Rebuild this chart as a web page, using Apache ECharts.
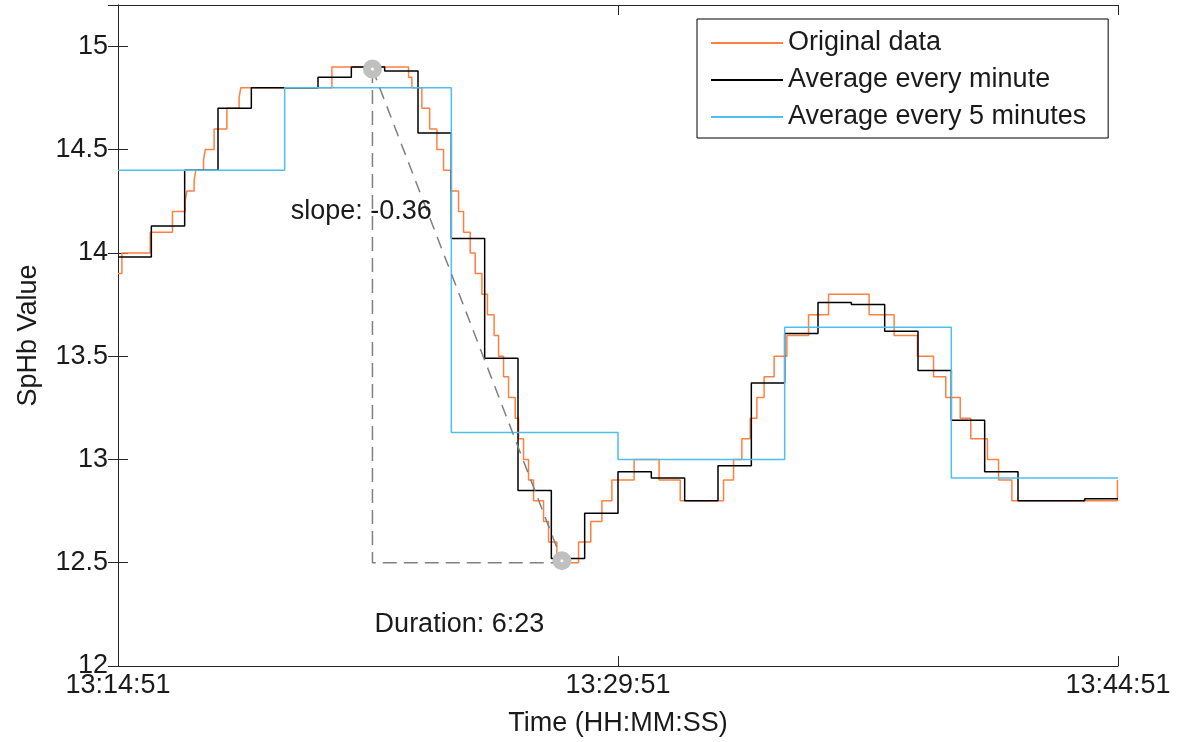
<!DOCTYPE html>
<html><head><meta charset="utf-8">
<script src="https://cdn.jsdelivr.net/npm/echarts@6/dist/echarts.min.js"></script>
<style>html,body{margin:0;padding:0;background:#fff}#c{width:1178px;height:742px}</style>
</head><body><div id="c"></div>
<script>
// ---- data ----
const startClock = [13, 14, 51];           // 13:14:51
const xMin = 0, xMax = 1800, xInterval = 900; // seconds from start
const yMin = 12, yMax = 15.2, yInterval = 0.5;

// original data: change times (s from start) and values (stairs)
const originalTimes = [0, 7, 58, 98, 121, 124, 137, 140, 154, 157, 173, 196, 218, 221,
  385, 523, 529, 547, 561, 574, 586, 599, 613, 622, 634, 643, 655, 665, 677, 685, 694,
  703, 715, 721, 730, 739, 748, 766, 775, 790, 829, 851, 871, 889, 929, 974, 1012,
  1090, 1108, 1123, 1138, 1150, 1163, 1181, 1204, 1243, 1279, 1352, 1397, 1439, 1468,
  1490, 1516, 1535, 1565, 1585, 1609, 1799, 1800];
const originalValues = [13.9, 14.0, 14.1, 14.2, 14.25, 14.3, 14.35, 14.4, 14.45, 14.5, 14.6, 14.7, 14.75, 14.8,
  14.9, 14.85, 14.8, 14.7, 14.6, 14.5, 14.4, 14.3, 14.2, 14.1, 14.0, 13.9, 13.8, 13.7, 13.6, 13.5, 13.4,
  13.3, 13.2, 13.1, 13.0, 12.9, 12.8, 12.7, 12.6, 12.5, 12.6, 12.7, 12.8, 12.9, 13.0, 12.9, 12.8,
  12.9, 13.0, 13.1, 13.2, 13.3, 13.4, 13.5, 13.6, 13.7, 13.8, 13.7, 13.6, 13.5, 13.4,
  13.3, 13.2, 13.1, 13.0, 12.9, 12.8, 12.9, 12.9];

// average every minute (30 bins)
const minuteValues = [13.98, 14.13, 14.40, 14.70, 14.80, 14.80, 14.85, 14.90, 14.88, 14.58,
  14.07, 13.49, 12.85, 12.52, 12.74, 12.94, 12.91, 12.80, 12.97, 13.37,
  13.61, 13.76, 13.75, 13.62, 13.43, 13.19, 12.94, 12.80, 12.80, 12.81];
// average every 5 minutes (6 bins)
const fiveMinuteValues = [14.40, 14.80, 13.13, 13.00, 13.64, 12.91];

const peakPoint = [458, 14.89];
const troughPoint = [799, 12.51];
const guideLevel = 12.5;
const slopeText = 'slope: -0.36';
const slopeTextAt = [310, 14.20];
const durationText = 'Duration: 6:23';
const durationTextAt = [461, 12.20];

const seriesNames = ['Original data', 'Average every minute', 'Average every 5 minutes'];
const seriesColors = ['#FF8040', '#000000', '#4DBEEE'];

// ---- helpers ----
function clock(sec) {
  let t = startClock[0] * 3600 + startClock[1] * 60 + startClock[2] + sec;
  const h = Math.floor(t / 3600), m = Math.floor((t % 3600) / 60), s = Math.round(t % 60);
  const p = n => String(n).padStart(2, '0');
  return p(h) + ':' + p(m) + ':' + p(s);
}
function binned(values, width) {
  const d = values.map((v, i) => [i * width, v]);
  d.push([values.length * width, values[values.length - 1]]);
  return d;
}

const FONT = "'Liberation Sans', Arial, sans-serif";
const TXT = '#1a1a1a';
const AX = '#262626';

const chart = echarts.init(document.getElementById('c'), null, {renderer: 'canvas'});
chart.setOption({
  animation: false,
  backgroundColor: '#fff',
  textStyle: {fontFamily: FONT},
  grid: {left: 118, right: 60, top: 5, bottom: 76, containLabel: false},
  legend: {
    data: seriesNames.map(n => ({name: n, icon: 'rect'})),
    orient: 'vertical',
    left: 697, top: 19,
    padding: [9, 22, 6, 14],
    itemWidth: 72, itemHeight: 2, itemGap: 7, itemTextGap: 10,
    borderColor: '#000', borderWidth: 1, backgroundColor: '#fff',
    textStyle: {fontSize: 27, color: TXT, fontFamily: FONT, lineHeight: 30}
  },
  xAxis: [{
    type: 'value', min: xMin, max: xMax, interval: xInterval,
    name: 'Time (HH:MM:SS)', nameLocation: 'middle', nameGap: 44,
    nameTextStyle: {fontSize: 27, color: TXT, fontFamily: FONT},
    axisLine: {show: true, lineStyle: {color: AX, width: 1}},
    axisTick: {show: true, inside: true, length: 10, lineStyle: {color: AX}},
    axisLabel: {fontSize: 27, color: TXT, margin: 6, formatter: v => clock(v)},
    splitLine: {show: false}
  }, {
    type: 'value', position: 'top', min: xMin, max: xMax, interval: xInterval,
    axisLine: {show: true, lineStyle: {color: AX, width: 1}},
    axisTick: {show: true, inside: true, length: 10, lineStyle: {color: AX}},
    axisLabel: {show: false}, splitLine: {show: false}
  }],
  yAxis: [{
    type: 'value', min: yMin, max: yMax, interval: yInterval,
    name: 'SpHb Value', nameLocation: 'middle', nameGap: 76,
    nameTextStyle: {fontSize: 27, color: TXT, fontFamily: FONT},
    axisLine: {show: true, lineStyle: {color: AX, width: 1}},
    axisTick: {show: true, inside: true, length: 10, lineStyle: {color: AX}},
    axisLabel: {fontSize: 27, color: TXT, margin: 10, showMaxLabel: false},
    splitLine: {show: false}
  }, {
    type: 'value', position: 'right', min: yMin, max: yMax, interval: yInterval,
    axisLine: {show: true, lineStyle: {color: AX, width: 1}},
    axisTick: {show: true, inside: true, length: 10, lineStyle: {color: AX}},
    axisLabel: {show: false}, splitLine: {show: false}
  }],
  series: [
    {name: seriesNames[0], type: 'line', step: 'end', symbol: 'none', z: 2,
     color: seriesColors[0], lineStyle: {color: seriesColors[0], width: 1.5},
     data: originalTimes.map((t, i) => [t, originalValues[i]])},
    {name: seriesNames[1], type: 'line', step: 'end', symbol: 'none', z: 3,
     color: seriesColors[1], lineStyle: {color: seriesColors[1], width: 1.5},
     data: binned(minuteValues, 60)},
    {name: seriesNames[2], type: 'line', step: 'end', symbol: 'none', z: 4,
     color: seriesColors[2], lineStyle: {color: seriesColors[2], width: 1.5},
     data: binned(fiveMinuteValues, 300)},
    {name: 'guide', type: 'line', symbol: 'none', z: 5, silent: true,
     lineStyle: {color: '#808080', width: 1.5, type: [14, 7]},
     data: [[peakPoint[0], peakPoint[1]], [peakPoint[0], guideLevel], [troughPoint[0], guideLevel]]},
    {name: 'slope', type: 'line', symbol: 'none', z: 5, silent: true,
     lineStyle: {color: '#808080', width: 1.5, type: [12, 8]},
     data: [peakPoint, troughPoint]},
    {name: 'extrema', type: 'scatter', z: 6, silent: true,
     symbol: 'circle', symbolSize: 11,
     itemStyle: {color: '#ffffff', borderColor: '#C0C0C0', borderWidth: 8, opacity: 1},
     data: [peakPoint, troughPoint]},
    {name: 'notes', type: 'scatter', z: 7, silent: true, symbolSize: 1,
     itemStyle: {color: 'rgba(0,0,0,0)', opacity: 1},
     label: {show: true, position: 'right', distance: 0, fontSize: 27, color: TXT, opacity: 1,
             fontFamily: FONT, formatter: p => p.data.text},
     data: [{value: slopeTextAt, text: slopeText}, {value: durationTextAt, text: durationText}]}
  ]
});
</script></body></html>
